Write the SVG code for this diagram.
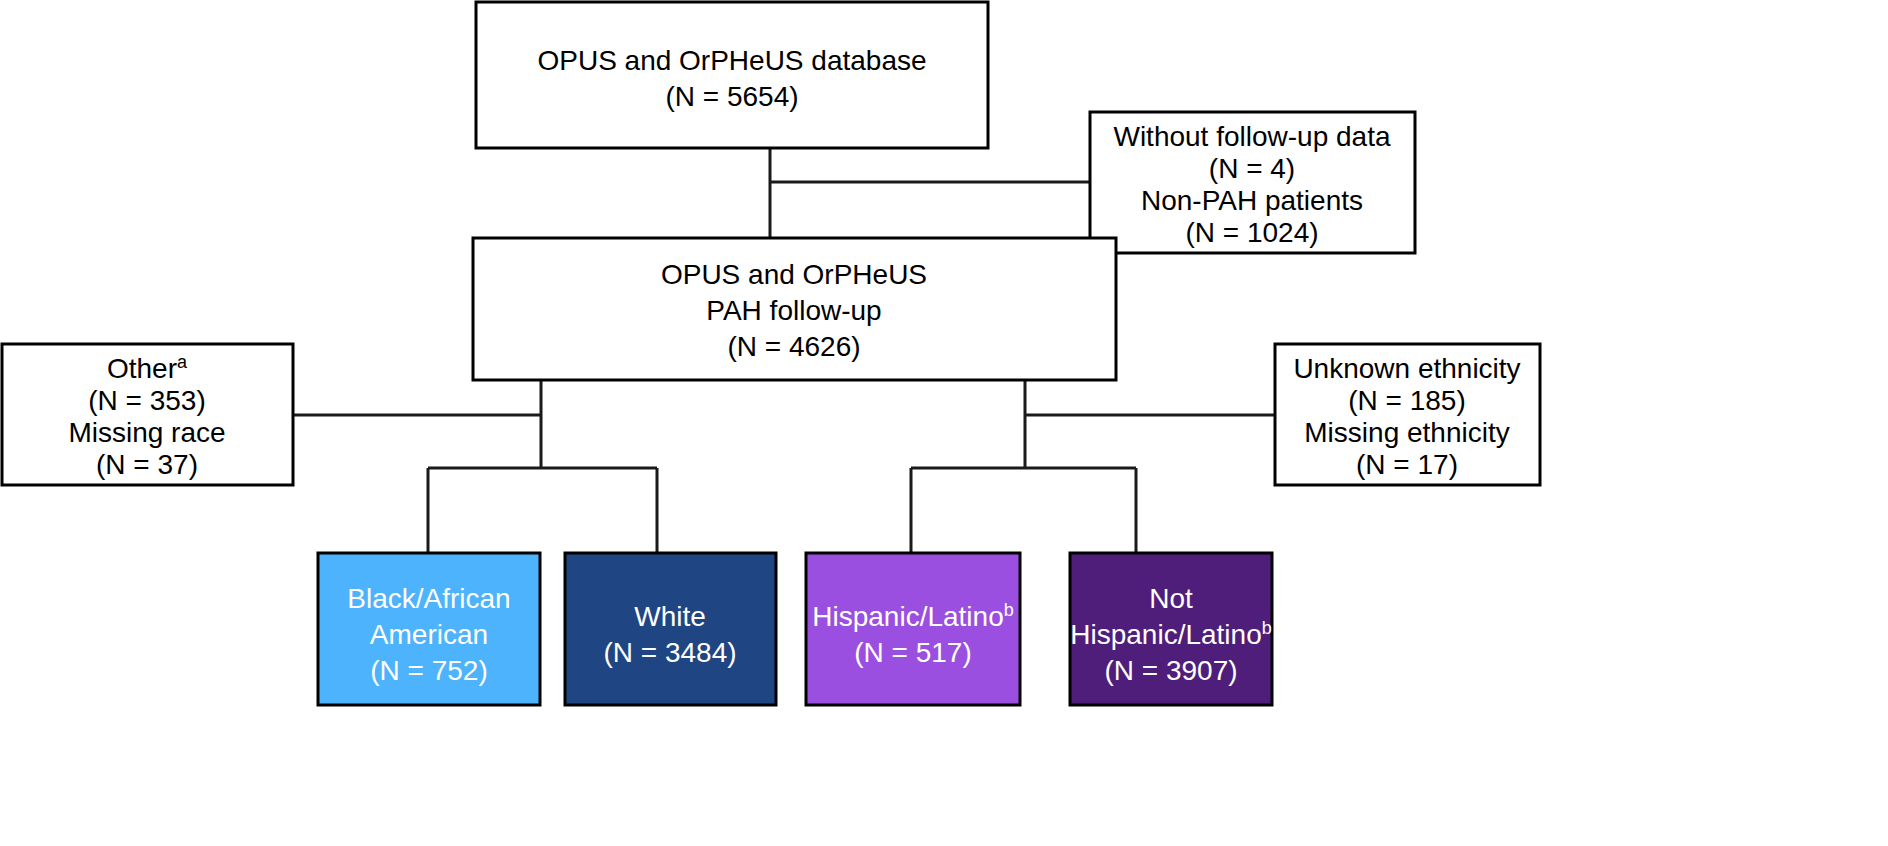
<svg xmlns="http://www.w3.org/2000/svg" width="1888" height="846" viewBox="0 0 1888 846">
<style>
.b{fill:#fff;stroke:#000;stroke-width:3}
.c{stroke:#1a1a1a;stroke-width:3}
text{font-family:"Liberation Sans",Arial,sans-serif;font-size:28px;text-anchor:middle;fill:#000}
.w{fill:#fff}
.s{font-size:18px}
</style>
<rect width="1888" height="846" fill="#fff"/>
<g id="connectors" class="c" fill="none">
<path d="M770 148V238M770 182H1090"/>
<path d="M541 380V468M293 415H541M428 468H657M428 468V553M657 468V553"/>
<path d="M1025 380V468M1025 415H1275M911 468H1136M911 468V553M1136 468V553"/>
</g>
<g id="n1"><rect class="b" x="476" y="2" width="512" height="146"/><text x="732" y="70">OPUS and OrPHeUS database</text><text x="732" y="106">(N = 5654)</text></g>
<g id="n2"><rect class="b" x="1090" y="112" width="325" height="141"/><text x="1252" y="146">Without follow-up data</text><text x="1252" y="178">(N = 4)</text><text x="1252" y="210">Non-PAH patients</text><text x="1252" y="242">(N = 1024)</text></g>
<g id="n3"><rect class="b" x="473" y="238" width="643" height="142"/><text x="794" y="284">OPUS and OrPHeUS</text><text x="794" y="320">PAH follow-up</text><text x="794" y="356">(N = 4626)</text></g>
<g id="n4"><rect class="b" x="2" y="344" width="291" height="141"/><text x="147" y="378">Other<tspan class="s" dy="-10">a</tspan></text><text x="147" y="410">(N = 353)</text><text x="147" y="442">Missing race</text><text x="147" y="474">(N = 37)</text></g>
<g id="n5"><rect class="b" x="1275" y="344" width="265" height="141"/><text x="1407" y="378">Unknown ethnicity</text><text x="1407" y="410">(N = 185)</text><text x="1407" y="442">Missing ethnicity</text><text x="1407" y="474">(N = 17)</text></g>
<g id="n6"><rect x="318" y="553" width="222" height="152" fill="#4db3fd" stroke="#000" stroke-width="3"/><text class="w" x="429" y="608">Black/African</text><text class="w" x="429" y="644">American</text><text class="w" x="429" y="680">(N = 752)</text></g>
<g id="n7"><rect x="565" y="553" width="211" height="152" fill="#1f4682" stroke="#000" stroke-width="3"/><text class="w" x="670" y="626">White</text><text class="w" x="670" y="662">(N = 3484)</text></g>
<g id="n8"><rect x="806" y="553" width="214" height="152" fill="#9b4fe0" stroke="#000" stroke-width="3"/><text class="w" x="913" y="626">Hispanic/Latino<tspan class="s" dy="-10">b</tspan></text><text class="w" x="913" y="662">(N = 517)</text></g>
<g id="n9"><rect x="1070" y="553" width="202" height="152" fill="#4f1e7a" stroke="#000" stroke-width="3"/><text class="w" x="1171" y="608">Not</text><text class="w" x="1171" y="644">Hispanic/Latino<tspan class="s" dy="-10">b</tspan></text><text class="w" x="1171" y="680">(N = 3907)</text></g>
</svg>
